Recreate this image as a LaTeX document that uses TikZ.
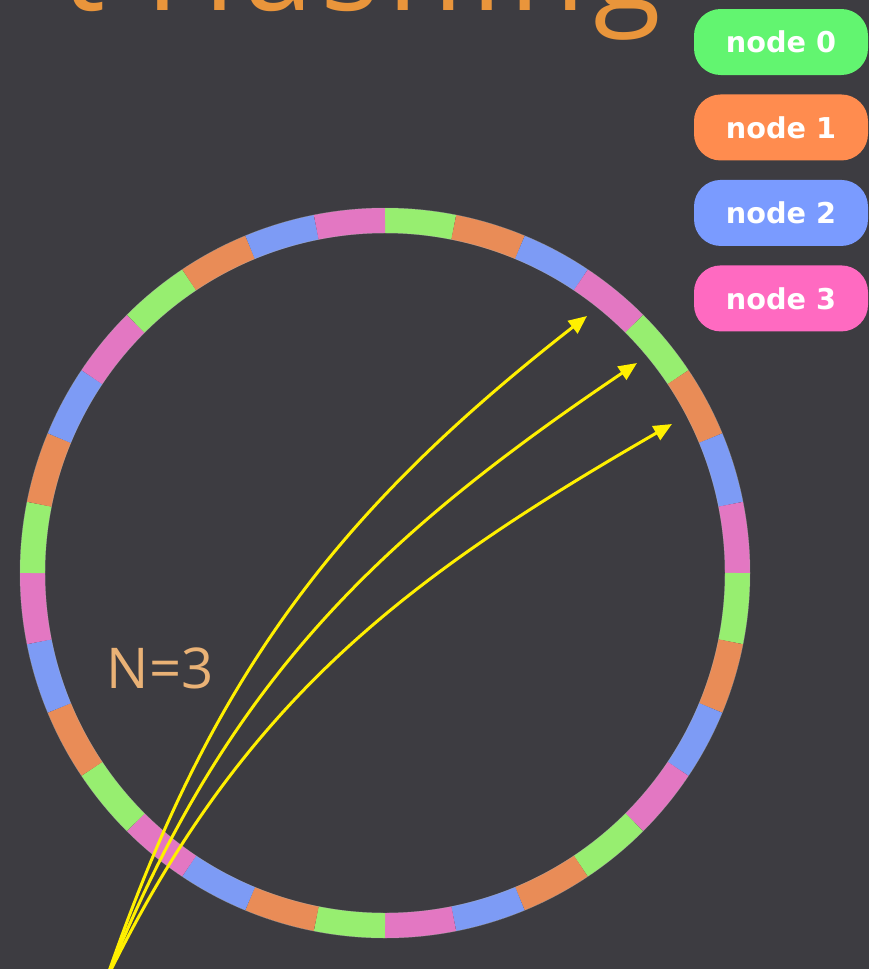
\documentclass[tikz,border=0pt]{standalone}
\usepackage{fontspec}
\setmainfont{Open Sans}
\newfontfamily\legendfont{DejaVu Sans}
\usetikzlibrary{positioning,arrows.meta}
\definecolor{cBg}{HTML}{3D3C41}
\definecolor{cTitle}{HTML}{E9953B}
\definecolor{cLabel}{HTML}{EAB276}
\definecolor{cHash}{HTML}{FFF000}
\definecolor{ring0}{HTML}{97EE70}
\definecolor{ring1}{HTML}{E98C57}
\definecolor{ring2}{HTML}{7D9BF5}
\definecolor{ring3}{HTML}{E377C2}
\definecolor{leg0}{HTML}{62F570}
\definecolor{leg1}{HTML}{FF8C4F}
\definecolor{leg2}{HTML}{7A9BFF}
\definecolor{leg3}{HTML}{FF6AC1}
\tikzset{
  legend/.style={rounded corners=0.8cm,minimum width=5.22cm,minimum height=1.98cm,
    inner sep=0pt,text=white,font=\legendfont\bfseries\fontsize{24.5}{24.5}\selectfont},
  hashline/.style={cHash,line width=0.09cm,-{Triangle[length=0.55cm,width=0.47cm]}},
  segment/.style={line width=0.75cm},
}

\begin{document}
\begin{tikzpicture}[x=0.03cm,y=0.03cm]
  \fill[cBg] (0,0) rectangle (869,-969);
  \useasboundingbox (0,0) rectangle (869,-969);
  \clip (0,0) rectangle (869,-969);

  \node[anchor=base east,inner sep=0pt,text=cTitle,
    font=\addfontfeatures{LetterSpace=6}\fontsize{106}{110}\selectfont] (title) at (662,-10) {t Hashing};

  % ring of virtual nodes
  \coordinate (ctr) at (385,-573);
  \begin{scope}[shift={(ctr)}]
    \foreach \k in {0,...,31}{
      \pgfmathtruncatemacro{\c}{mod(\k,4)}
      \pgfmathsetmacro{\a}{90-11.25*\k}
      \draw[segment,ring\c] (\a:352.5) arc[start angle=\a,delta angle=-11.25,radius=352.5];
    }
    \draw[gray!60,line width=0.4pt,opacity=0.5] (0,0) circle[radius=365] (0,0) circle[radius=340];
  \end{scope}

  \node[legend,fill=leg0] (n0) at (781,-42) {node 0};
  \node[legend,fill=leg1,below=0.57cm of n0] (n1) {node 1};
  \node[legend,fill=leg2,below=0.57cm of n1] (n2) {node 2};
  \node[legend,fill=leg3,below=0.57cm of n2] (n3) {node 3};

  \node[text=cLabel,font=\fontsize{48}{48}\selectfont] (rep) at (160,-668) {N=3};

  % replicas
  \coordinate (key) at (106,-980);
  \coordinate (v0) at (587,-316);
  \coordinate (v1) at (637,-363);
  \coordinate (v2) at (672,-424);
  \draw[hashline] (key) to[out=71,in=218] (v0);
  \draw[hashline] (key) to[out=68,in=214] (v1);
  \draw[hashline] (key) to[out=64,in=210] (v2);
\end{tikzpicture}
\end{document}
